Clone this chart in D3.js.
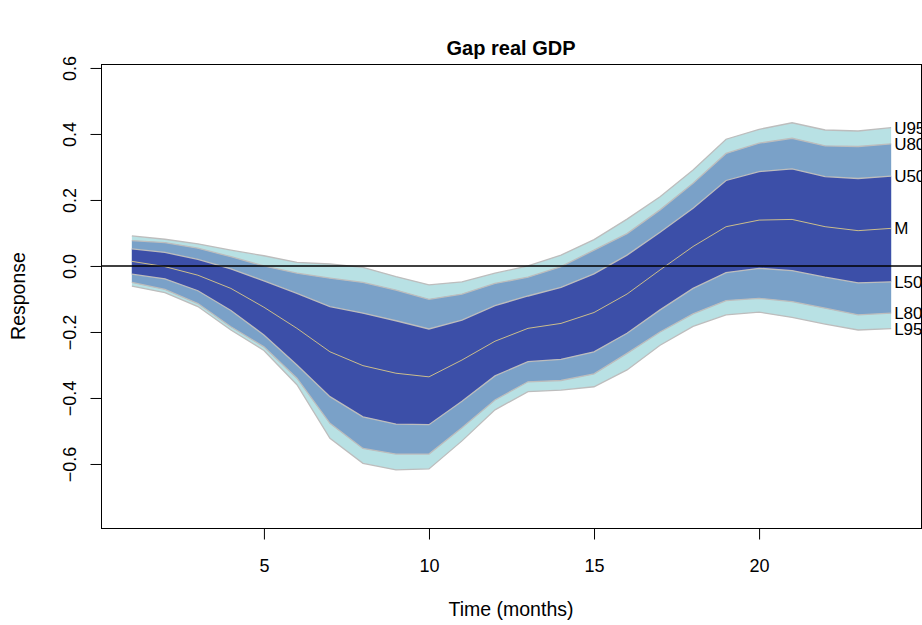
<!DOCTYPE html>
<html>
<head>
<meta charset="utf-8">
<script src="https://cdn.jsdelivr.net/npm/d3@7"></script>
<style>
  html, body { margin: 0; padding: 0; background: #ffffff; }
  svg { display: block; }
  text { font-family: "Liberation Sans", Arial, Helvetica, sans-serif; fill: #000; }
</style>
</head>
<body>
<svg id="chart" width="922" height="625"></svg>
<script>
// Horizon (months)
const months = d3.range(1, 25);

// Fan chart quantiles of the impulse response
const u95 = [0.091, 0.081, 0.067, 0.048, 0.031, 0.011, 0.006, -0.004, -0.032, -0.057, -0.048, -0.022,
             0.000, 0.033, 0.080, 0.142, 0.210, 0.291, 0.384, 0.414, 0.434, 0.412, 0.409, 0.419];
const u80 = [0.077, 0.071, 0.054, 0.028, 0.000, -0.022, -0.037, -0.050, -0.073, -0.101, -0.085, -0.053,
             -0.034, -0.002, 0.048, 0.098, 0.170, 0.251, 0.341, 0.372, 0.387, 0.364, 0.362, 0.370];
const u50 = [0.052, 0.041, 0.020, -0.009, -0.045, -0.083, -0.123, -0.143, -0.166, -0.191, -0.164, -0.120,
             -0.091, -0.065, -0.024, 0.033, 0.102, 0.175, 0.259, 0.286, 0.294, 0.271, 0.265, 0.272];
const med = [0.014, -0.002, -0.028, -0.068, -0.125, -0.189, -0.260, -0.302, -0.325, -0.336, -0.285, -0.228,
             -0.189, -0.174, -0.141, -0.085, -0.012, 0.059, 0.119, 0.139, 0.141, 0.119, 0.107, 0.114];
const l50 = [-0.025, -0.039, -0.075, -0.135, -0.209, -0.300, -0.396, -0.457, -0.479, -0.481, -0.410, -0.333,
             -0.290, -0.283, -0.260, -0.204, -0.133, -0.068, -0.020, -0.007, -0.014, -0.034, -0.051, -0.048];
const l80 = [-0.050, -0.071, -0.114, -0.184, -0.245, -0.340, -0.477, -0.553, -0.570, -0.570, -0.490, -0.406,
             -0.351, -0.347, -0.327, -0.265, -0.200, -0.145, -0.105, -0.098, -0.108, -0.128, -0.148, -0.143];
const l95 = [-0.061, -0.081, -0.123, -0.194, -0.256, -0.360, -0.522, -0.598, -0.618, -0.615, -0.530, -0.436,
             -0.381, -0.376, -0.366, -0.315, -0.240, -0.183, -0.148, -0.140, -0.156, -0.176, -0.194, -0.190];

// Axis ticks
const xTicks = [5, 10, 15, 20];
const yTicks = [0.6, 0.4, 0.2, 0.0, -0.2, -0.4, -0.6];
const yTickLabels = ["0.6", "0.4", "0.2", "0.0", "\u22120.2", "\u22120.4", "\u22120.6"];

const bandColors = { outer: "#b8e1e4", mid: "#7aa1c8", inner: "#3c4fa8" };

const svg = d3.select("#chart");
const plotLeft = 101, plotRight = 921, plotTop = 64, plotBottom = 528;

const x = d3.scaleLinear().domain([0.08, 24.92]).range([plotLeft + 0.5, plotRight + 0.5]);
const y = d3.scaleLinear().domain([-0.794, 0.612]).range([plotBottom, plotTop]);

const plot = svg.append("g");

function band(upper, lower, fill) {
  const area = d3.area()
    .x((d, i) => x(months[i]))
    .y0((d, i) => y(lower[i]))
    .y1((d, i) => y(upper[i]));
  plot.append("path").datum(upper).attr("d", area).attr("fill", fill).attr("stroke", "none");
}
band(u95, l95, bandColors.outer);
band(u80, l80, bandColors.mid);
band(u50, l50, bandColors.inner);

const lineGen = d3.line().x((d, i) => x(months[i])).y(d => y(d));
[u95, u80, u50, l50, l80, l95].forEach(s => {
  plot.append("path").datum(s).attr("d", lineGen)
    .attr("fill", "none").attr("stroke", "#bdbdbd").attr("stroke-width", 1.3);
});
plot.append("path").datum(med).attr("d", lineGen)
  .attr("fill", "none").attr("stroke", "#cbbd8c").attr("stroke-width", 1);

// zero reference line
svg.append("line")
  .attr("x1", plotLeft).attr("x2", plotRight)
  .attr("y1", y(0)).attr("y2", y(0))
  .attr("stroke", "#000").attr("stroke-width", 1.4);

// series labels at the last horizon
const seriesLabels = [["U95", u95], ["U80", u80], ["U50", u50], ["M", med],
                      ["L50", l50], ["L80", l80], ["L95", l95]];
svg.append("g").selectAll("text").data(seriesLabels).join("text")
  .attr("x", x(24) + 3)
  .attr("y", d => y(d[1][d[1].length - 1]))
  .attr("dy", "0.35em")
  .attr("font-size", 17)
  .text(d => d[0]);

// plot frame
svg.append("rect")
  .attr("x", plotLeft + 0.5).attr("y", plotTop + 0.5)
  .attr("width", plotRight - plotLeft).attr("height", plotBottom - plotTop)
  .attr("fill", "none").attr("stroke", "#000").attr("stroke-width", 1);

// x axis
const xAxis = svg.append("g")
  .attr("transform", `translate(0,${plotBottom + 0.5})`)
  .call(d3.axisBottom(x).tickValues(xTicks).tickSize(11).tickPadding(20).tickFormat(d3.format("d")));
xAxis.select(".domain").remove();
xAxis.selectAll("line").attr("stroke", "#000");
xAxis.selectAll("text").attr("font-size", 18).attr("font-family", null);

// y axis with labels parallel to the axis
const yAxis = svg.append("g")
  .attr("transform", `translate(${plotLeft + 0.5},0)`)
  .call(d3.axisLeft(y).tickValues(yTicks).tickSize(11).tickFormat((d, i) => yTickLabels[i]));
yAxis.select(".domain").remove();
yAxis.selectAll("line").attr("stroke", "#000");
yAxis.selectAll("text")
  .attr("font-size", 18).attr("font-family", null)
  .attr("text-anchor", "middle")
  .attr("x", 0).attr("y", -26).attr("dy", null)
  .attr("transform", "rotate(-90)");

// titles
svg.append("text")
  .attr("x", (plotLeft + plotRight) / 2).attr("y", 55)
  .attr("text-anchor", "middle").attr("font-size", 20).attr("font-weight", "bold")
  .text("Gap real GDP");
svg.append("text")
  .attr("x", (plotLeft + plotRight) / 2).attr("y", 616)
  .attr("text-anchor", "middle").attr("font-size", 19.5)
  .text("Time (months)");
svg.append("text")
  .attr("transform", `translate(25,${(plotTop + plotBottom) / 2}) rotate(-90)`)
  .attr("text-anchor", "middle").attr("font-size", 19.5)
  .text("Response");
</script>
</body>
</html>
